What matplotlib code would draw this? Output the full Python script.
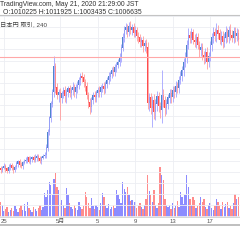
import matplotlib
matplotlib.use("Agg")
import matplotlib.pyplot as plt
from matplotlib.lines import Line2D

plt.rcParams['font.family'] = ['Liberation Sans', 'Noto Sans CJK JP']

# BTC/JPY 4h candles, prices in thousands of yen
first_open = 806
close = [803, 807, 810, 805, 801, 808, 812, 807, 803,
         808, 814, 818, 812, 810, 816, 819,
         821, 825, 818, 823, 826, 821, 825, 828, 823, 819, 825, 828, 830,
         843, 871, 897, 922, 943, 990,
         951, 938, 943, 933, 940, 947, 936, 943, 949, 942, 947, 952, 943, 951, 956, 965, 972, 969, 961, 954,
         938, 924, 916, 929, 938, 934,
         942, 947, 943, 951, 954, 949, 958, 965, 971, 976, 983, 979, 988, 992, 997,
         1005, 1023, 1041, 1055, 1059, 1052, 1062, 1055, 1060, 1050, 1055, 1044, 1041, 1033, 1037, 1026, 1030, 1023,
         924,
         933, 915, 929, 907, 922, 936, 918, 911, 938, 929,
         915, 922, 933, 940, 934, 947, 943, 954, 951, 965, 972, 983, 997,
         1005, 1028, 1046, 1041, 1050, 1037, 1033, 1041, 1028, 1019, 1023, 1010, 1005, 1015, 997, 1008,
         1028, 1041, 1050, 1044, 1055, 1048, 1037, 1044, 1033, 1041, 1050, 1042, 1055, 1046, 1041, 1052, 1044, 1048, 1037]

wick_hi = [4, 3, 5, 4, 3, 6, 4, 3, 5, 4,
           5, 3, 4, 6, 3, 4, 5, 3, 4, 5,
           3, 4, 6, 3, 4, 5, 3, 4, 5, 6,
           5, 4, 6, 5, 18, 6, 8, 5, 7, 6,
           5, 8, 6, 5, 7, 6, 9, 5, 6, 7,
           6, 5, 8, 6, 5, 7, 6, 8, 5, 6,
           7, 5, 6, 8, 5, 6, 7, 5, 6, 8,
           5, 6, 7, 5, 6, 5, 8, 6, 9, 7,
           8, 6, 7, 9, 6, 8, 7, 6, 8, 7,
           6, 8, 7, 9, 10, 8, 9, 7, 10, 8,
           9, 8, 7, 45, 10, 8, 9, 7, 8, 9,
           7, 8, 9, 7, 8, 9, 8, 7, 10, 9,
           12, 8, 9, 7, 10, 8, 9, 7, 8, 9,
           7, 8, 9, 7, 8, 9, 10, 8, 12, 9,
           8, 10, 9, 8, 12, 9, 8, 10, 9, 8,
           9, 10, 8]
wick_lo = [5, 4, 3, 6, 4, 3, 5, 4, 6, 3,
           4, 5, 3, 4, 6, 3, 4, 5, 3, 4,
           6, 3, 4, 5, 3, 4, 6, 3, 4, 5,
           6, 5, 7, 6, 8, 10, 8, 12, 40, 9,
           8, 10, 12, 9, 8, 11, 9, 8, 10, 9,
           8, 9, 7, 8, 9, 8, 10, 12, 9, 8,
           9, 8, 7, 9, 8, 7, 9, 8, 7, 8,
           7, 8, 6, 7, 8, 6, 7, 8, 6, 7,
           8, 9, 7, 8, 9, 7, 8, 9, 10, 8,
           9, 10, 8, 9, 12, 14, 12, 35, 12, 14,
           12, 10, 14, 23, 12, 14, 12, 10, 9, 11,
           9, 10, 8, 9, 10, 8, 9, 10, 8, 9,
           8, 9, 10, 8, 9, 10, 8, 12, 10, 9,
           11, 10, 12, 9, 8, 10, 9, 8, 10, 9,
           8, 9, 10, 8, 9, 8, 10, 9, 8, 9,
           10, 8, 9]

# volume, in px-like units of the volume pane
volume = [15, 12, 6, 8, 10, 5, 7, 9, 6, 11,
          8, 5, 9, 12, 7, 13, 6, 15, 9, 7,
          5, 10, 8, 6, 9, 12, 7, 10, 24, 20,
          27, 35, 32, 22, 38, 44, 30, 27, 14, 17,
          12, 9, 29, 22, 14, 10, 8, 12, 9, 7,
          15, 10, 8, 11, 25, 20, 14, 9, 19, 11,
          8, 12, 10, 7, 14, 24, 20, 11, 9, 13,
          8, 10, 12, 9, 27, 22, 18, 14, 35, 28,
          25, 30, 22, 16, 17, 12, 15, 9, 11, 14,
          10, 8, 12, 18, 42, 26, 22, 15, 27, 12,
          9, 14, 50, 42, 37, 18, 12, 10, 12, 8,
          14, 9, 11, 16, 10, 25, 20, 13, 22, 42,
          30, 18, 12, 20, 17, 9, 11, 14, 20, 15,
          18, 10, 8, 12, 14, 9, 7, 11, 18, 15,
          12, 8, 15, 10, 13, 15, 9, 11, 8, 14,
          23, 18, 20]

tick_pos = [2, 38, 62, 86, 110, 134]
tick_labels = ['25', '5月', '5', '9', '13', '17']
last_price = 1006.6

opens = [first_open] + close[:-1]
n = len(close)
idx = list(range(n))
up = [c >= o for o, c in zip(opens, close)]

W, H = 240, 240
fig = plt.figure(figsize=(2.4, 2.4), dpi=100)
top_px, bot_px = 15, 217.3
ax = fig.add_axes([0, 1 - bot_px / H, 1, (bot_px - top_px) / H])
ax.set_xlim(-0.51, 153.1)
ax.set_ylim(717.9, 1082)

ax.set_yticks(range(720, 1081, 20))
ax.set_xticks(tick_pos)
ax.set_xticklabels(tick_labels)
ax.tick_params(axis='y', length=0, labelleft=False)
ax.tick_params(axis='x', length=0, pad=1.5, labelsize=4.3, colors='#555555')
ax.grid(True, color='#eceef3', lw=0.6)
ax.set_axisbelow(True)
for s in ['left', 'right']:
    ax.spines[s].set_visible(False)
ax.spines['top'].set_color('#c4c4c4')
ax.spines['top'].set_linewidth(0.8)
ax.spines['bottom'].set_color('#d0d0d0')
ax.spines['bottom'].set_linewidth(0.6)

# volume pane
ax2 = ax.twinx()
ax2.set_ylim(0, bot_px - top_px)
ax2.axis('off')
ax2.bar(idx, volume, width=0.85,
        color=['#8c8cff' if u else '#ff8c8c' for u in up], linewidth=0)

ax.set_zorder(ax2.get_zorder() + 1)
ax.patch.set_visible(False)

# candles
hi = [max(o, c) + w for o, c, w in zip(opens, close, wick_hi)]
lo = [min(o, c) - w for o, c, w in zip(opens, close, wick_lo)]
ax.vlines(idx, lo, hi, colors=['#a4a4ff' if u else '#ff9c9c' for u in up], lw=0.6)
ax.bar(idx, [abs(c - o) + 0.8 for o, c in zip(opens, close)],
       bottom=[min(o, c) for o, c in zip(opens, close)], width=0.7,
       color=['#4f86cc' if u else '#ff4d4d' for u in up], linewidth=0)
ax.axhline(last_price, color='#ffa8a8', lw=0.8)

# header
fig.text(139 / W, 1 - 5 / H, 'TradingView.com, May 21, 2020 21:29:00 JST',
         ha='right', va='center', fontsize=4.9, color='#333333')
fig.text(142 / W, 1 - 12.5 / H, 'O:1010225 H:1011925 L:1003435 C:1006635',
         ha='right', va='center', fontsize=4.95, color='#333333')
fig.text(0.5 / W, 1 - 24 / H, '日本円 取引, 240',
         ha='left', va='center', fontsize=4.5, color='#444444')
fig.add_artist(Line2D([0, 1], [1 - 225.3 / H] * 2, color='#b4b4b4', lw=1.2))

fig.savefig('out.png', dpi=100)
